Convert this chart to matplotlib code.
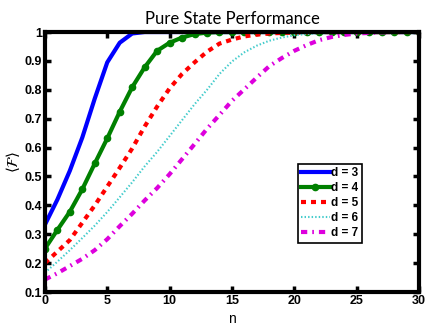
import matplotlib
matplotlib.use("Agg")
import matplotlib.pyplot as plt

n = list(range(31))
d3 = [0.333, 0.42, 0.52, 0.635, 0.77, 0.895, 0.963, 0.995] + [1.0] * 23
d4 = [0.25, 0.315, 0.378, 0.456, 0.545, 0.632, 0.724, 0.809, 0.878, 0.935, 0.963,
      0.981, 0.993, 0.998] + [1.0] * 17
d5 = [0.20, 0.24, 0.28, 0.34, 0.40, 0.465, 0.53, 0.597, 0.673, 0.742, 0.805, 0.855,
      0.895, 0.932, 0.96, 0.974, 0.985, 0.991, 0.995, 0.997, 0.998, 0.999] + [1.0] * 9
d6 = [0.167, 0.205, 0.245, 0.287, 0.33, 0.377, 0.428, 0.48, 0.535, 0.585, 0.64,
      0.695, 0.75, 0.80, 0.855, 0.898, 0.93, 0.953, 0.97, 0.981, 0.989, 0.993, 0.996,
      0.998, 0.999] + [1.0] * 6
d7 = [0.143, 0.165, 0.19, 0.215, 0.245, 0.283, 0.328, 0.371, 0.417, 0.46, 0.508, 0.56,
      0.612, 0.665, 0.713, 0.762, 0.802, 0.843, 0.882, 0.91, 0.935, 0.955, 0.972, 0.983,
      0.99, 0.995, 0.997, 0.999] + [1.0] * 3
labels = ["d = 3", "d = 4", "d = 5", "d = 6", "d = 7"]
yticks = [0.1, 0.2, 0.3, 0.4, 0.5, 0.6, 0.7, 0.8, 0.9, 1.0]
ytick_labels = ["0.1", "0.2", "0.3", "0.4", "0.5", "0.6", "0.7", "0.8", "0.9", "1"]
xticks = [0, 5, 10, 15, 20, 25, 30]

fig = plt.figure(figsize=(4.36, 3.27), dpi=100)
ax = fig.add_axes([0.103, 0.107, 0.858, 0.795])

ax.plot(n, d3, color="#0000ff", lw=3, label=labels[0])
ax.plot(n, d4, color="#008000", lw=3, marker="o", ms=4.5, label=labels[1])
ax.plot(n, d5, color="#ff0000", lw=3, ls=(0, (1.2, 1.2)), label=labels[2])
ax.plot(n, d6, color="#44cccc", lw=1.5, ls=(0, (0.7, 1.0)), label=labels[3])
ax.plot(n, d7, color="#dd00dd", lw=3, ls=(0, (1.5, 1.2, 0.4, 1.2)), label=labels[4])

ax.set_xlim(0, 30)
ax.set_ylim(0.1, 1.0)
ax.set_xticks(xticks)
ax.set_xticklabels([str(x) for x in xticks], fontweight="bold", fontsize=9,
                   family="Liberation Sans")
ax.set_yticks(yticks)
ax.set_yticklabels(ytick_labels, fontweight="bold", fontsize=9, family="Liberation Sans")
ax.tick_params(direction="in", length=4, width=2.5, top=True, right=True, pad=2)
for s in ax.spines.values():
    s.set_linewidth(3)

ax.set_title("Pure State Performance", fontsize=12, family="Lato", pad=6)
ax.set_xlabel("n", fontsize=10, family="Liberation Sans", labelpad=4)
ax.set_ylabel(r"$\langle \mathcal{F} \rangle$", fontsize=11, labelpad=2)

leg = ax.legend(loc="lower left", bbox_to_anchor=(0.676, 0.19),
                prop={"weight": "bold", "family": "Liberation Sans", "size": 8.5},
                handlelength=2.4, handletextpad=0.1, borderpad=0.3, labelspacing=0.25,
                fancybox=False, framealpha=1, edgecolor="black", borderaxespad=0)
leg.get_frame().set_linewidth(1.2)

fig.savefig("out.png", dpi=100)
